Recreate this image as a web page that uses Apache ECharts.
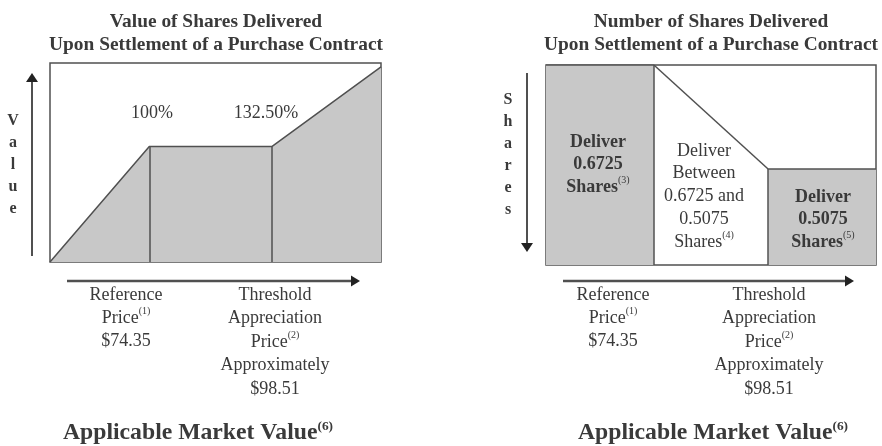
<!DOCTYPE html>
<html>
<head>
<meta charset="utf-8">
<script src="https://cdn.jsdelivr.net/npm/echarts@6/dist/echarts.min.js"></script>
<style>html,body{margin:0;padding:0;background:#fff}#c{width:882px;height:446px}</style>
</head>
<body>
<div id="c"></div>
<script>
// Left chart: value of shares delivered (schematic units, 0-100)
var valueX = [0, 30, 67, 100];
var valueY = [0, 58, 58, 98];
var valueLabels = ['100%', '132.50%'];
// Right chart: number of shares delivered (schematic units, 0-100)
var sharesX = [0, 32.7, 67.3, 100];
var sharesY = [100, 100, 48, 48];
var leftBlock = ['Deliver', '0.6725', 'Shares'];
var midBlock = ['Deliver', 'Between', '0.6725 and', '0.5075', 'Shares'];
var rightBlock = ['Deliver', '0.5075', 'Shares'];
var refLabel = ['Reference', 'Price', '$74.35'];
var thrLabel = ['Threshold', 'Appreciation', 'Price', 'Approximately', '$98.51'];

var FONT = '"Liberation Serif", "Times New Roman", serif';
var TXT = '#3a3a3a';
var FILL = '#c8c8c8';
var LINE = '#505050';

var chart = echarts.init(document.getElementById('c'), null, {renderer: 'canvas'});

function pts(xs, ys, a, b) {
  var out = [];
  for (var i = a; i <= b; i++) out.push([xs[i], ys[i]]);
  return out;
}

function sup(n) { return '{sup|(' + n + ')}'; }

function txt(x, y, text, size, bold, lh, extra, supBold) {
  var rich = {
    sup: {fontSize: Math.round(size * 0.58), fontFamily: FONT, fill: TXT, verticalAlign: 'top', lineHeight: Math.round(size * 0.9), fontWeight: supBold ? 'bold' : 'normal'}
  };
  var st = {
    text: text, x: x, y: y, fill: TXT, fontSize: size, fontFamily: FONT,
    fontWeight: bold ? 'bold' : 'normal', align: 'center', verticalAlign: 'middle',
    lineHeight: lh || Math.round(size * 1.25), rich: rich
  };
  return Object.assign({type: 'text', style: st, z: 100}, extra || {});
}

function hArrow(x1, x2, y) {
  return [
    {type: 'line', shape: {x1: x1, y1: y, x2: x2 - 6, y2: y}, style: {stroke: LINE, lineWidth: 2.5}},
    {type: 'polygon', shape: {points: [[x2, y], [x2 - 9, y - 5.5], [x2 - 9, y + 5.5]]}, style: {fill: '#222'}}
  ];
}
function vArrow(x, y1, y2) { // arrow head at y2
  var dir = y2 > y1 ? 1 : -1;
  return [
    {type: 'line', shape: {x1: x, y1: y1, x2: x, y2: y2 - dir * 6}, style: {stroke: LINE, lineWidth: 2}},
    {type: 'polygon', shape: {points: [[x, y2], [x - 6, y2 - dir * 9], [x + 6, y2 - dir * 9]]}, style: {fill: '#222'}}
  ];
}

var graphics = [];
// Titles
graphics.push(txt(216, 33.5, 'Value of Shares Delivered\nUpon Settlement of a Purchase Contract', 19, true, 23, {scaleX: 1.02, originX: 216}));
graphics.push(txt(711, 33.5, 'Number of Shares Delivered\nUpon Settlement of a Purchase Contract', 19, true, 23, {scaleX: 1.02, originX: 711}));
// Vertical axis words
graphics.push(txt(13, 165, 'V\na\nl\nu\ne', 16, true, 22));
graphics.push(txt(508, 155, 'S\nh\na\nr\ne\ns', 16, true, 22));
graphics = graphics.concat(vArrow(32, 256, 73));
graphics = graphics.concat(vArrow(527, 73, 252));
// Percent labels
graphics.push(txt(152, 113, valueLabels[0], 18, false, 22));
graphics.push(txt(266, 113, valueLabels[1], 18, false, 22));
// Block texts
graphics.push(txt(598, 164.5, leftBlock[0] + '\n' + leftBlock[1] + '\n' + leftBlock[2] + sup(3), 18, true, 22.5));
graphics.push(txt(704, 196.5, midBlock.slice(0, 4).join('\n') + '\n' + midBlock[4] + sup(4), 18, false, 22.75));
graphics.push(txt(823, 219.5, rightBlock[0] + '\n' + rightBlock[1] + '\n' + rightBlock[2] + sup(5), 18, true, 22.5));
// X arrows
graphics = graphics.concat(hArrow(67, 360, 281));
graphics = graphics.concat(hArrow(563, 854, 281));
// X labels
var refText = refLabel[0] + '\n' + refLabel[1] + sup(1) + '\n' + refLabel[2];
var thrText = thrLabel[0] + '\n' + thrLabel[1] + '\n' + thrLabel[2] + sup(2) + '\n' + thrLabel[3] + '\n' + thrLabel[4];
graphics.push(txt(126, 318, refText, 18, false, 23));
graphics.push(txt(275, 342, thrText, 18, false, 23.5));
graphics.push(txt(613, 318, refText, 18, false, 23));
graphics.push(txt(769, 342, thrText, 18, false, 23.5));
// Bottom titles
graphics.push(txt(198, 433, 'Applicable Market Value' + sup(6), 23, true, 26, {scaleX: 1.03, originX: 198}, true));
graphics.push(txt(713, 433, 'Applicable Market Value' + sup(6), 23, true, 26, {scaleX: 1.03, originX: 713}, true));

var hiddenX = function (idx) {
  return {type: 'value', gridIndex: idx, min: 0, max: 100, show: false};
};

var option = {
  animation: false,
  backgroundColor: '#fff',
  grid: [
    {left: 50, top: 63, width: 331, height: 199, show: true, borderColor: LINE, borderWidth: 1.5, backgroundColor: 'transparent'},
    {left: 546, top: 65, width: 330, height: 200, show: true, borderColor: LINE, borderWidth: 1.5, backgroundColor: 'transparent'}
  ],
  xAxis: [hiddenX(0), hiddenX(1)],
  yAxis: [
    {type: 'value', gridIndex: 0, min: 0, max: 100, show: false},
    {type: 'value', gridIndex: 1, min: 0, max: 100, show: false}
  ],
  series: [
    {
      type: 'line', xAxisIndex: 0, yAxisIndex: 0, symbol: 'none', silent: true,
      data: pts(valueX, valueY, 0, 3),
      lineStyle: {color: LINE, width: 1.5},
      areaStyle: {color: FILL, opacity: 1},
      markLine: {
        silent: true, symbol: 'none', label: {show: false},
        lineStyle: {color: LINE, width: 1.5, type: 'solid'},
        data: [
          [{coord: [valueX[1], 0]}, {coord: [valueX[1], valueY[1]]}],
          [{coord: [valueX[2], 0]}, {coord: [valueX[2], valueY[2]]}]
        ]
      }
    },
    {
      type: 'line', xAxisIndex: 1, yAxisIndex: 1, symbol: 'none', silent: true,
      data: pts(sharesX, sharesY, 0, 1),
      lineStyle: {color: LINE, width: 1.5},
      areaStyle: {color: FILL, opacity: 1}
    },
    {
      type: 'line', xAxisIndex: 1, yAxisIndex: 1, symbol: 'none', silent: true,
      data: pts(sharesX, sharesY, 2, 3),
      lineStyle: {color: LINE, width: 1.5},
      areaStyle: {color: FILL, opacity: 1}
    },
    {
      type: 'line', xAxisIndex: 1, yAxisIndex: 1, symbol: 'none', silent: true,
      data: pts(sharesX, sharesY, 1, 2),
      lineStyle: {color: LINE, width: 1.5},
      markLine: {
        silent: true, symbol: 'none', label: {show: false},
        lineStyle: {color: LINE, width: 1.5, type: 'solid'},
        data: [
          [{coord: [sharesX[1], 0]}, {coord: [sharesX[1], sharesY[1]]}],
          [{coord: [sharesX[2], 0]}, {coord: [sharesX[2], sharesY[2]]}]
        ]
      }
    }
  ],
  graphic: graphics
};
chart.setOption(option);
</script>
</body>
</html>
